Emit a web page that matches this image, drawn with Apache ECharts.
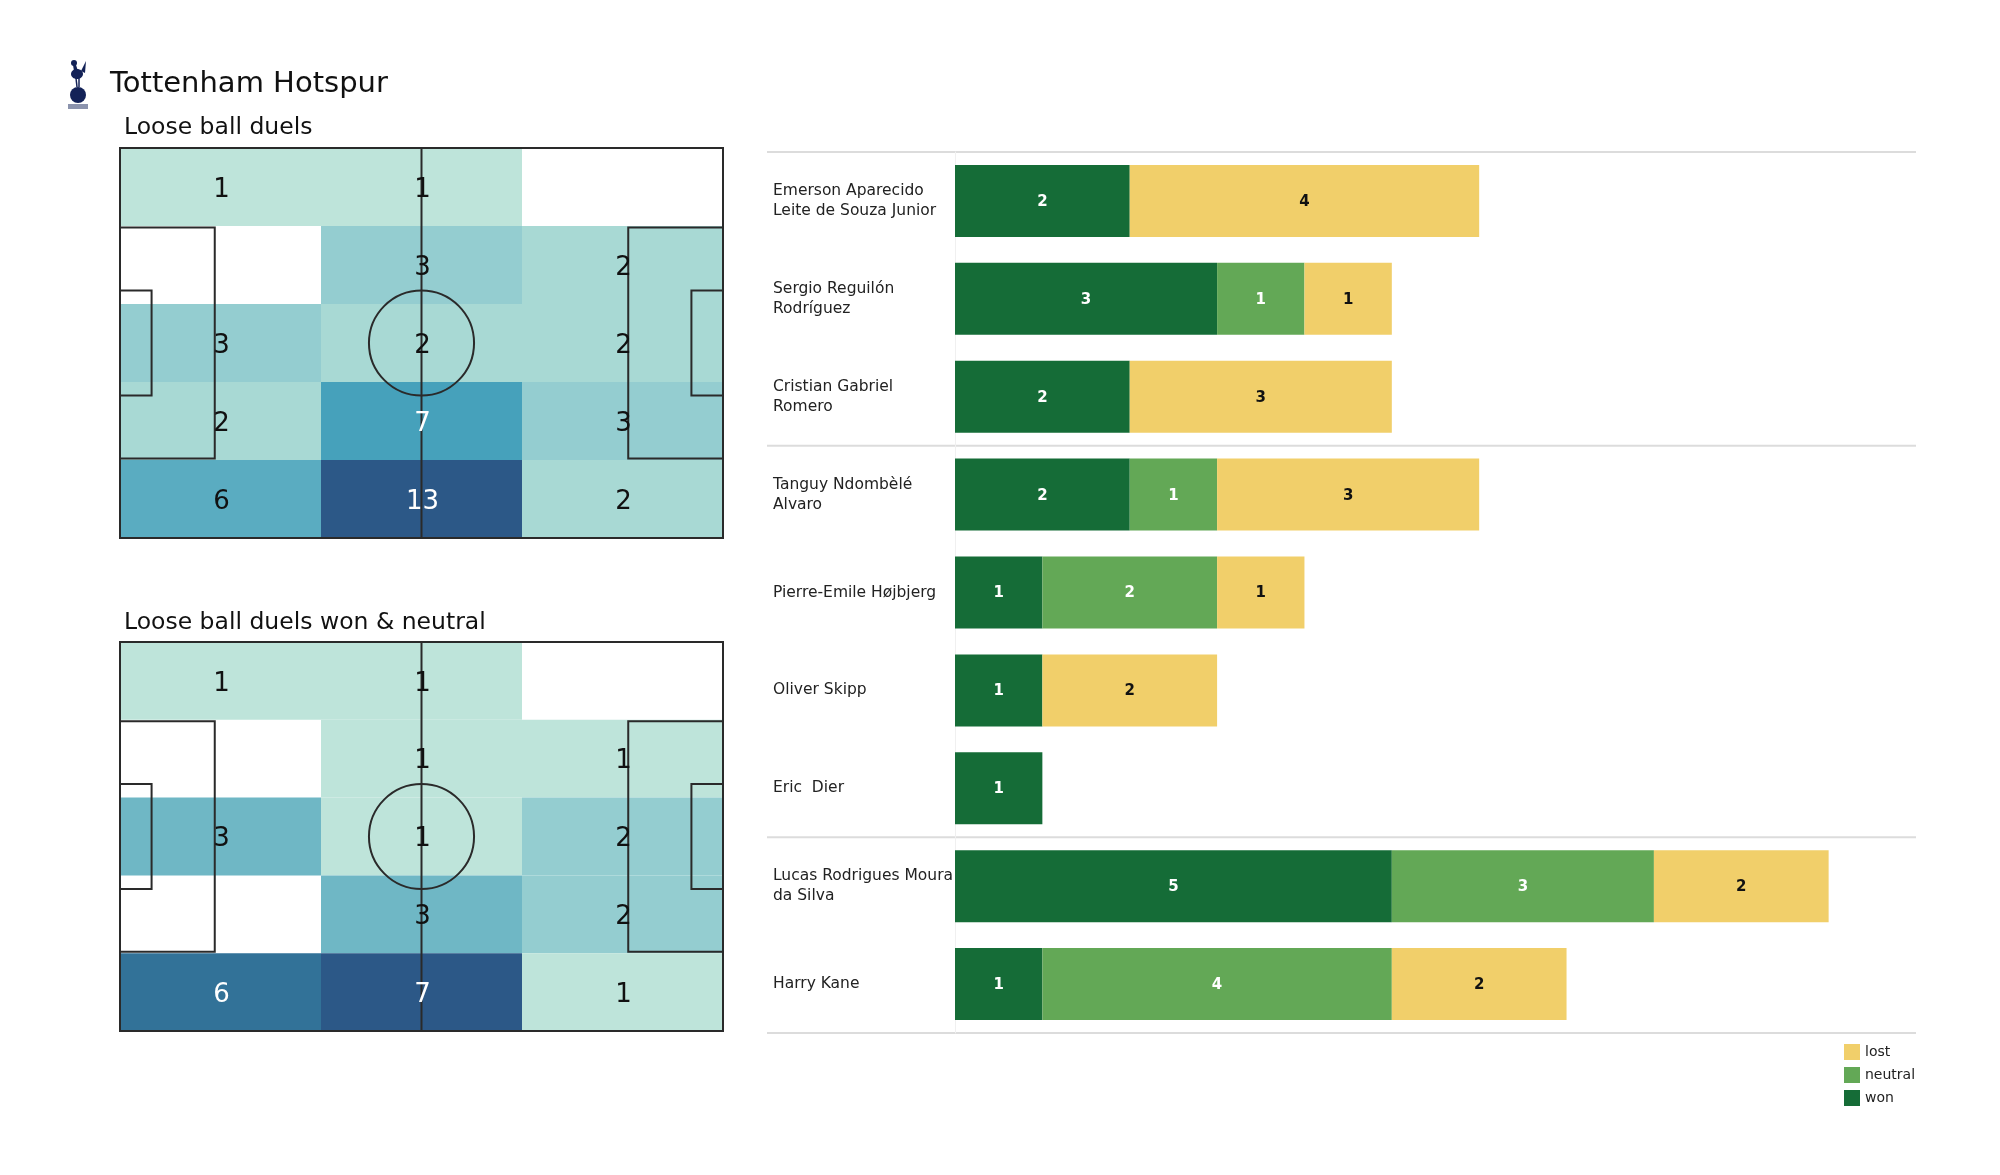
<!DOCTYPE html>
<html><head><meta charset="utf-8">
<script src="https://cdn.jsdelivr.net/npm/echarts@6/dist/echarts.min.js"></script>
<style>html,body{margin:0;padding:0;background:#fff}#c{width:2000px;height:1175px}</style>
</head><body><div id="c"></div>
<script>
// ---------------- DATA ----------------
const teamName = 'Tottenham Hotspur';
const pitchTitles = ['Loose ball duels', 'Loose ball duels won & neutral'];
// rows top -> bottom, columns left -> right
const duelsAll = [
  [1, 1, 0],
  [0, 3, 2],
  [3, 2, 2],
  [2, 7, 3],
  [6, 13, 2]
];
const duelsWonNeutral = [
  [1, 1, 0],
  [0, 1, 1],
  [3, 1, 2],
  [0, 3, 2],
  [6, 7, 1]
];
const players = [
  'Emerson Aparecido\nLeite de Souza Junior',
  'Sergio Reguilón\nRodríguez',
  'Cristian Gabriel\nRomero',
  'Tanguy Ndombèlé\nAlvaro',
  'Pierre-Emile Højbjerg',
  'Oliver Skipp',
  'Eric  Dier',
  'Lucas Rodrigues Moura\nda Silva',
  'Harry Kane'
];
const playerGroups = ['A', 'A', 'A', 'B', 'B', 'B', 'B', 'C', 'C'];
const won     = [2, 3, 2, 2, 1, 1, 1, 5, 1];
const neutral = [0, 1, 0, 1, 2, 0, 0, 3, 4];
const lost    = [4, 1, 3, 3, 1, 2, 0, 2, 2];
const legendNames = ['lost', 'neutral', 'won'];

// ---------------- STYLE / GEOMETRY ----------------
const FONT = '"DejaVu Sans", "Liberation Sans", sans-serif';
const PITCH_L = 105, PITCH_W = 68;
const colors = { won: '#156c37', neutral: '#63a856', lost: '#f1cf6a' };
const cmapStops = [[0, '#bee4da'], [0.083, '#a8d9d4'], [0.167, '#94cdd0'], [0.333, '#6fb7c5'],
  [0.417, '#5aacc1'], [0.5, '#46a1bb'], [0.833, '#327298'], [1, '#2c5887']];
function hex2rgb(h) { return [parseInt(h.slice(1, 3), 16), parseInt(h.slice(3, 5), 16), parseInt(h.slice(5, 7), 16)]; }
function cmap(t) {
  t = Math.max(0, Math.min(1, t));
  for (let i = 1; i < cmapStops.length; i++) {
    if (t <= cmapStops[i][0]) {
      const a = cmapStops[i - 1], b = cmapStops[i];
      const f = (t - a[0]) / (b[0] - a[0]);
      const ca = hex2rgb(a[1]), cb = hex2rgb(b[1]);
      return 'rgb(' + ca.map((v, k) => Math.round(v + (cb[k] - v) * f)).join(',') + ')';
    }
  }
  return cmapStops[cmapStops.length - 1][1];
}

function toCells(matrix) {
  const out = [];
  matrix.forEach((row, r) => row.forEach((v, c) => out.push([c, r, v])));
  return out;
}

function makePitchSeries(matrix, gridIdx) {
  const nRows = matrix.length, nCols = matrix[0].length;
  const colW = PITCH_L / nCols, rowH = PITCH_W / nRows;
  const flat = matrix.flat().filter(v => v > 0);
  const vmax = Math.max(...flat), vmin = Math.min(...flat);
  const cells = toCells(matrix);
  function box(api, c, r) {
    const p0 = api.coord([c * colW, r * rowH]);
    const p1 = api.coord([(c + 1) * colW, (r + 1) * rowH]);
    return { x: Math.min(p0[0], p1[0]), y: Math.min(p0[1], p1[1]), w: Math.abs(p1[0] - p0[0]), h: Math.abs(p1[1] - p0[1]) };
  }
  const cellSeries = {
    type: 'custom', xAxisIndex: gridIdx, yAxisIndex: gridIdx, z: 1, silent: true,
    data: cells,
    renderItem: function (params, api) {
      const c = api.value(0), r = api.value(1), v = api.value(2);
      if (v <= 0) return { type: 'group', children: [] };
      const b = box(api, c, r);
      const t = (v - vmin) / (vmax - vmin);
      return { type: 'rect', shape: { x: b.x, y: b.y, width: b.w, height: b.h }, style: { fill: cmap(t) } };
    }
  };
  const textSeries = {
    type: 'custom', xAxisIndex: gridIdx, yAxisIndex: gridIdx, z: 3, silent: true,
    data: cells,
    renderItem: function (params, api) {
      const c = api.value(0), r = api.value(1), v = api.value(2);
      if (v <= 0) return { type: 'group', children: [] };
      const b = box(api, c, r);
      const t = (v - vmin) / (vmax - vmin);
      return { type: 'text', style: { text: String(v), x: b.x + b.w / 2 + 1, y: b.y + b.h / 2 + 3, align: 'center', verticalAlign: 'middle',
        fill: t >= 0.5 ? '#ffffff' : '#111111', font: '26px ' + FONT } };
    }
  };
  const lineSeries = {
    type: 'custom', xAxisIndex: gridIdx, yAxisIndex: gridIdx, z: 2, silent: true,
    data: [[0]],
    renderItem: function (params, api) {
      const st = { stroke: '#2a2a2a', lineWidth: 2, fill: null };
      const rect = (x0, y0, x1, y1) => {
        const a = api.coord([x0, y0]), b = api.coord([x1, y1]);
        return { type: 'rect', shape: { x: Math.min(a[0], b[0]), y: Math.min(a[1], b[1]), width: Math.abs(b[0] - a[0]), height: Math.abs(b[1] - a[1]) }, style: st };
      };
      const boxW = 40.32, boxL = 16.5, sixW = 18.32, sixL = 5.5;
      const cy = PITCH_W / 2;
      const mid1 = api.coord([PITCH_L / 2, 0]), mid2 = api.coord([PITCH_L / 2, PITCH_W]);
      const cen = api.coord([PITCH_L / 2, cy]);
      const rad = api.size([9.15, 0])[0];
      return { type: 'group', children: [
        rect(0, 0, PITCH_L, PITCH_W),
        { type: 'line', shape: { x1: mid1[0], y1: mid1[1], x2: mid2[0], y2: mid2[1] }, style: st },
        { type: 'circle', shape: { cx: cen[0], cy: cen[1], r: rad }, style: st },
        rect(0, cy - boxW / 2, boxL, cy + boxW / 2),
        rect(PITCH_L - boxL, cy - boxW / 2, PITCH_L, cy + boxW / 2),
        rect(0, cy - sixW / 2, sixL, cy + sixW / 2),
        rect(PITCH_L - sixL, cy - sixW / 2, PITCH_L, cy + sixW / 2)
      ] };
    }
  };
  return [cellSeries, lineSeries, textSeries];
}

// group separators from player groups
const groupBounds = [0];
for (let i = 1; i < playerGroups.length; i++) if (playerGroups[i] !== playerGroups[i - 1]) groupBounds.push(i);
groupBounds.push(playerGroups.length);

const barLabel = (color) => ({
  show: true, position: 'inside', color: color, fontWeight: 'bold', fontSize: 15, fontFamily: FONT, offset: [0, 1],
  formatter: p => (p.value > 0 ? String(p.value) : '')
});

const chart = echarts.init(document.getElementById('c'));
const option = {
  backgroundColor: '#ffffff',
  animation: false,
  title: [
    { text: teamName, left: 110, top: 70, padding: 0, textStyle: { fontSize: 29, fontWeight: 'normal', color: '#111', fontFamily: FONT } },
    { text: pitchTitles[0], left: 124, top: 116, padding: 0, textStyle: { fontSize: 23.5, fontWeight: 'normal', color: '#111', fontFamily: FONT } },
    { text: pitchTitles[1], left: 124, top: 611, padding: 0, textStyle: { fontSize: 23.5, fontWeight: 'normal', color: '#111', fontFamily: FONT } }
  ],
  graphic: [
    { type: 'group', left: 68, top: 60, children: [
      { type: 'circle', shape: { cx: 12, cy: 38, r: 8 }, style: { fill: '#132257' } },
      { type: 'ellipse', shape: { cx: 11, cy: 17, rx: 6, ry: 5 }, style: { fill: '#132257' } },
      { type: 'circle', shape: { cx: 8, cy: 6, r: 3 }, style: { fill: '#132257' } },
      { type: 'polygon', shape: { points: [[7, 8], [10, 8], [12, 14], [8, 14]] }, style: { fill: '#132257' } },
      { type: 'polygon', shape: { points: [[15, 14], [20, 4], [19, 16]] }, style: { fill: '#132257' } },
      { type: 'line', shape: { x1: 10, y1: 21, x2: 11, y2: 30 }, style: { stroke: '#132257', lineWidth: 1.5 } },
      { type: 'line', shape: { x1: 13, y1: 21, x2: 13, y2: 30 }, style: { stroke: '#132257', lineWidth: 1.5 } },
      { type: 'rect', shape: { x: 2, y: 47, width: 20, height: 5 }, style: { fill: '#8b93ad' } }
    ] }
  ],
  legend: {
    data: legendNames, orient: 'vertical', left: 1839, top: 1039, itemWidth: 16, itemHeight: 16, itemGap: 7,
    icon: 'rect', textStyle: { fontSize: 14, color: '#222', fontFamily: FONT }, selectedMode: false
  },
  grid: [
    { left: 120, top: 148, width: 603, height: 390 },
    { left: 120, top: 642, width: 603, height: 389 },
    { left: 955, top: 152, width: 961, height: 881 },
    { left: 767, top: 152, width: 1149, height: 881 }
  ],
  xAxis: [
    { gridIndex: 0, type: 'value', min: 0, max: PITCH_L, show: false },
    { gridIndex: 1, type: 'value', min: 0, max: PITCH_L, show: false },
    { gridIndex: 2, type: 'value', min: 0, max: 11, show: false },
    { gridIndex: 3, type: 'value', min: 0, max: 1, show: false }
  ],
  yAxis: [
    { gridIndex: 0, type: 'value', min: 0, max: PITCH_W, inverse: true, show: false },
    { gridIndex: 1, type: 'value', min: 0, max: PITCH_W, inverse: true, show: false },
    { gridIndex: 2, type: 'category', data: players, inverse: true,
      axisTick: { show: false }, axisLine: { show: true, lineStyle: { color: '#f0f0f0', width: 1 } },
      axisLabel: { align: 'left', margin: 182, fontSize: 15.5, lineHeight: 20, color: '#222', fontFamily: FONT,
        padding: [10, 0, 0, 0] } },
    { gridIndex: 3, type: 'value', min: 0, max: players.length, inverse: true, show: false }
  ],
  series: [
    ...makePitchSeries(duelsAll, 0),
    ...makePitchSeries(duelsWonNeutral, 1),
    { name: 'won', type: 'bar', stack: 'duels', xAxisIndex: 2, yAxisIndex: 2, barWidth: 72, data: won,
      itemStyle: { color: colors.won }, label: barLabel('#ffffff') },
    { name: 'neutral', type: 'bar', stack: 'duels', xAxisIndex: 2, yAxisIndex: 2, barWidth: 72, data: neutral,
      itemStyle: { color: colors.neutral }, label: barLabel('#ffffff') },
    { name: 'lost', type: 'bar', stack: 'duels', xAxisIndex: 2, yAxisIndex: 2, barWidth: 72, data: lost,
      itemStyle: { color: colors.lost }, label: barLabel('#111111') },
    { type: 'custom', xAxisIndex: 3, yAxisIndex: 3, silent: true, z: 0,
      data: groupBounds.map(b => [b]),
      renderItem: function (params, api) {
        const y = api.value(0);
        const a = api.coord([0, y]), b = api.coord([1, y]);
        return { type: 'line', shape: { x1: a[0], y1: a[1], x2: b[0], y2: b[1] }, style: { stroke: '#dcdcdc', lineWidth: 2 } };
      } }
  ]
};
chart.setOption(option);
</script>
</body></html>
